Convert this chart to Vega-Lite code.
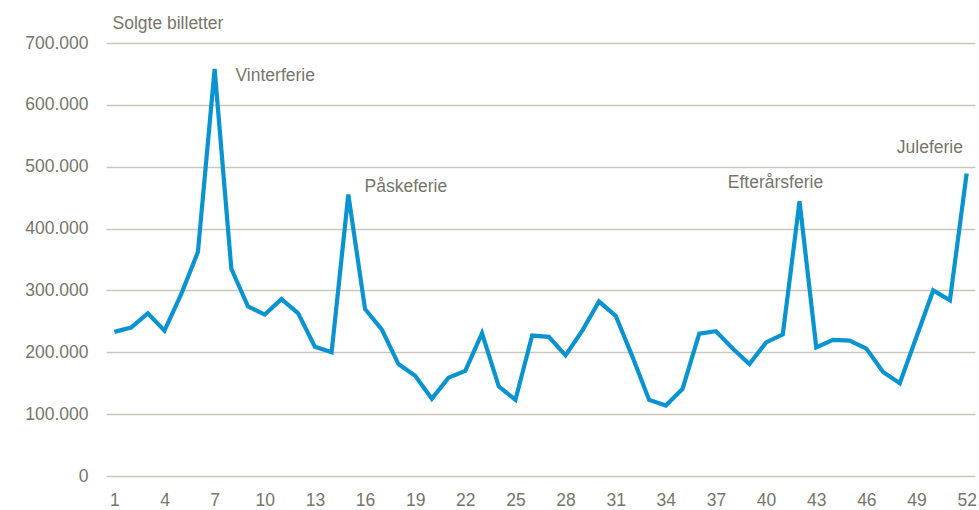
{
  "$schema": "https://vega.github.io/schema/vega-lite/v6.json",
  "width": 869,
  "height": 433,
  "autosize": {"type": "none"},
  "padding": {"left": 106, "top": 43, "right": 4, "bottom": 34},
  "background": "white",
  "config": {
    "locale": {"number": {"decimal": ",", "thousands": ".", "grouping": [3], "currency": ["", " kr."]}},
    "view": {"stroke": null},
    "font": "Liberation Sans",
    "text": {"font": "Liberation Sans"}
  },
  "datasets": {
    "weeks": [
      {"week": 1, "value": 233000}, {"week": 2, "value": 240000}, {"week": 3, "value": 263000},
      {"week": 4, "value": 235000}, {"week": 5, "value": 294000}, {"week": 6, "value": 362000},
      {"week": 7, "value": 658000}, {"week": 8, "value": 335000}, {"week": 9, "value": 274000},
      {"week": 10, "value": 261000}, {"week": 11, "value": 286000}, {"week": 12, "value": 263000},
      {"week": 13, "value": 209000}, {"week": 14, "value": 200000}, {"week": 15, "value": 455000},
      {"week": 16, "value": 270000}, {"week": 17, "value": 237000}, {"week": 18, "value": 181000},
      {"week": 19, "value": 162000}, {"week": 20, "value": 125000}, {"week": 21, "value": 159000},
      {"week": 22, "value": 170000}, {"week": 23, "value": 231000}, {"week": 24, "value": 145000},
      {"week": 25, "value": 123000}, {"week": 26, "value": 227000}, {"week": 27, "value": 225000},
      {"week": 28, "value": 195000}, {"week": 29, "value": 235000}, {"week": 30, "value": 282000},
      {"week": 31, "value": 259000}, {"week": 32, "value": 193000}, {"week": 33, "value": 123000},
      {"week": 34, "value": 114000}, {"week": 35, "value": 141000}, {"week": 36, "value": 230000},
      {"week": 37, "value": 234000}, {"week": 38, "value": 206000}, {"week": 39, "value": 181000},
      {"week": 40, "value": 216000}, {"week": 41, "value": 229000}, {"week": 42, "value": 444000},
      {"week": 43, "value": 208000}, {"week": 44, "value": 220000}, {"week": 45, "value": 219000},
      {"week": 46, "value": 206000}, {"week": 47, "value": 168000}, {"week": 48, "value": 150000},
      {"week": 49, "value": 225000}, {"week": 50, "value": 300000}, {"week": 51, "value": 284000},
      {"week": 52, "value": 489000}
    ],
    "labels": [
      {"label": "Vinterferie", "week": 8.25, "value": 647000, "side": "left"},
      {"label": "Påskeferie", "week": 15.97, "value": 467000, "side": "left"},
      {"label": "Efterårsferie", "week": 37.71, "value": 473000, "side": "left"},
      {"label": "Juleferie", "week": 51.78, "value": 531000, "side": "right"}
    ]
  },
  "layer": [
    {
      "data": {"name": "weeks"},
      "mark": {"type": "line", "color": "#0a93d1", "strokeWidth": 4.2, "strokeJoin": "miter"},
      "encoding": {
        "x": {
          "field": "week", "type": "quantitative",
          "scale": {"domain": [0.5, 52.5], "nice": false, "zero": false},
          "axis": {
            "values": [1, 4, 7, 10, 13, 16, 19, 22, 25, 28, 31, 34, 37, 40, 43, 46, 49, 52],
            "title": null, "grid": false, "domain": false, "ticks": false,
            "labelFont": "Liberation Sans", "labelFontSize": 17.5, "labelColor": "#76766a",
            "labelPadding": 15, "labelFlush": false
          }
        },
        "y": {
          "field": "value", "type": "quantitative",
          "scale": {"domain": [0, 700000], "nice": false},
          "axis": {
            "values": [0, 100000, 200000, 300000, 400000, 500000, 600000, 700000],
            "format": ",d",
            "title": "Solgte billetter",
            "titleAngle": 0, "titleAlign": "left", "titleBaseline": "middle",
            "titleX": 6, "titleY": -20,
            "titleFont": "Liberation Sans", "titleFontSize": 17.5, "titleFontWeight": "normal", "titleColor": "#76766a",
            "domain": false, "ticks": false,
            "labelFont": "Liberation Sans", "labelFontSize": 17.5, "labelColor": "#76766a",
            "labelPadding": 18,
            "gridColor": "#c9c7bb", "gridWidth": 1.5
          }
        }
      }
    },
    {
      "data": {"name": "labels"},
      "transform": [{"filter": "datum.side === 'left'"}],
      "mark": {"type": "text", "align": "left", "baseline": "middle", "fontSize": 17.5, "color": "#76766a"},
      "encoding": {
        "x": {"field": "week", "type": "quantitative"},
        "y": {"field": "value", "type": "quantitative"},
        "text": {"field": "label"}
      }
    },
    {
      "data": {"name": "labels"},
      "transform": [{"filter": "datum.side === 'right'"}],
      "mark": {"type": "text", "align": "right", "baseline": "middle", "fontSize": 17.5, "color": "#76766a"},
      "encoding": {
        "x": {"field": "week", "type": "quantitative"},
        "y": {"field": "value", "type": "quantitative"},
        "text": {"field": "label"}
      }
    }
  ]
}
